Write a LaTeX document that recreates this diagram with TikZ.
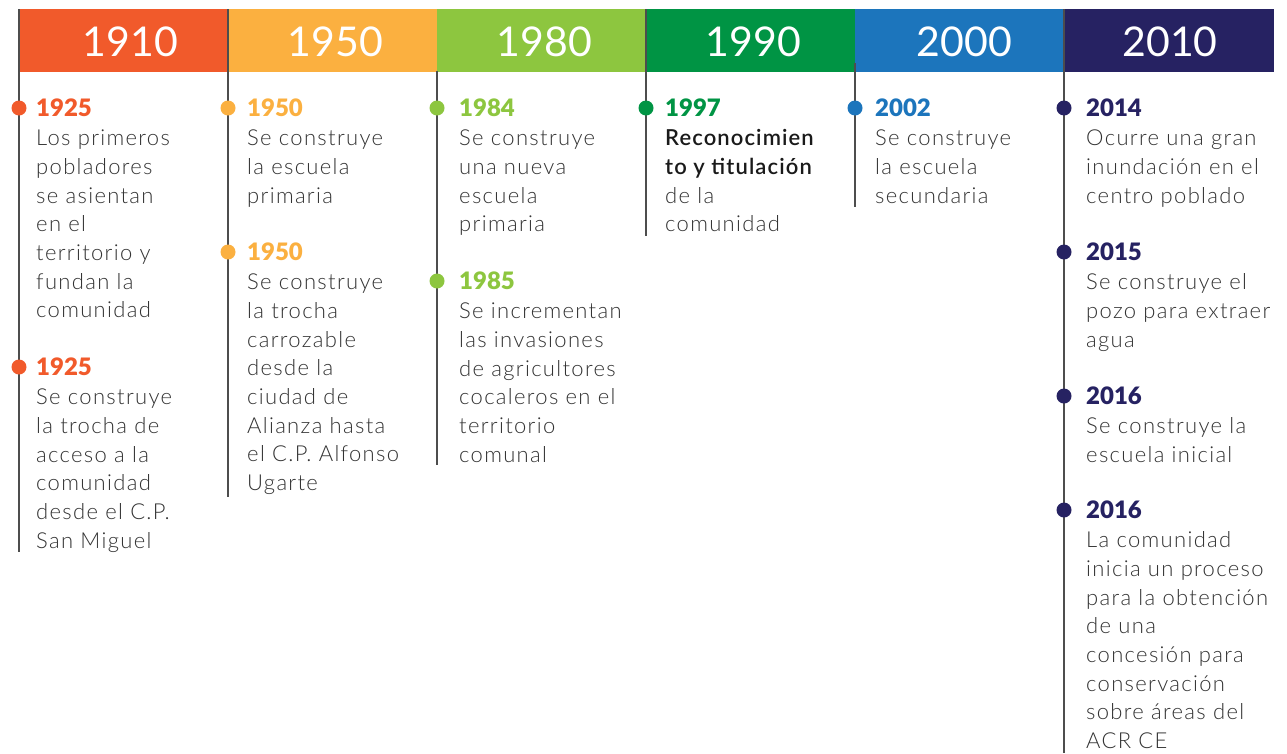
\documentclass[tikz,border=0pt]{standalone}
\usepackage{fontspec}
\setmainfont{Lato Light}
\newfontfamily\tlbody{Lato Light}[LetterSpace=6]
\newfontfamily\tlyear{Lato Black}
\newfontfamily\tlhead{Lato}
\newfontfamily\tlsemifont{Lato Semibold}[LetterSpace=5]
\definecolor{cA}{HTML}{F15A2B}
\definecolor{cB}{HTML}{FBB040}
\definecolor{cC}{HTML}{8DC63F}
\definecolor{cD}{HTML}{009444}
\definecolor{cE}{HTML}{1C75BC}
\definecolor{cF}{HTML}{262262}
\definecolor{tltext}{HTML}{333333}
\definecolor{tldark}{HTML}{1A1A1A}
\definecolor{tlline}{HTML}{4D4D4D}
\newcommand\tlsemi[1]{{\tlsemifont\color{tldark}#1}}
\tikzset{
  band/.style={fill=#1, draw=none},
  headlbl/.style={text=white, font=\tlhead\fontsize{41}{41}\selectfont, anchor=center, inner sep=0pt},
  yearlbl/.style={font=\tlyear\fontsize{24}{24}\selectfont, anchor=base west, inner sep=0pt},
  bodylbl/.style={text=tltext, font=\tlbody\fontsize{22}{24}\selectfont, anchor=base west, inner sep=0pt},
  tlrule/.style={draw=tlline, line width=1.1pt},
  tldot/.style={circle, fill=#1, minimum size=15pt, inner sep=0pt},
}
\newcounter{tlc}
% #1 rule x, #2 text offset, #3 year baseline, #4 colour, #5 year, #6 lines
\newcommand\tlentry[6]{%
  \stepcounter{tlc}%
  \node[tldot=#4] (d\thetlc) at (#1,#3-8) {};
  \node[yearlbl, text=#4] (y\thetlc) at (#1+#2,#3) {#5};
  \foreach \ln [count=\i] in {#6} {
    \node[bodylbl] (b\thetlc-\i) at (#1+#2,{#3+1+\i*28.7}) {\ln};
  }%
}
\begin{document}
\begin{tikzpicture}[x=1pt,y=-1pt]
\useasboundingbox[fill=white] (0,0) rectangle (1287,753);
% header bands
\foreach \xa/\xb/\c/\t/\dx in {19/228/cA/1910/7,228/437/cB/1950/3,437/646/cC/1980/3,646/855/cD/1990/3,855/1064/cE/2000/5,1064/1274/cF/2010/1}{
  \fill[band=\c] (\xa,9) rectangle (\xb,71.5);
  \node[headlbl] (h\t) at ({(\xa+\xb)/2+\dx},42) {\t};
}
% vertical rules
\coordinate (r1a) at (19,9);    \coordinate (r1b) at (19,552);
\coordinate (r2a) at (228,9);   \coordinate (r2b) at (228,497);
\coordinate (r3a) at (437,71);  \coordinate (r3b) at (437,465);
\coordinate (r4a) at (646,9);   \coordinate (r4b) at (646,236);
\coordinate (r5a) at (855,63);  \coordinate (r5b) at (855,207);
\coordinate (r6a) at (1064,9);  \coordinate (r6b) at (1064,753);
\foreach \r in {1,...,6} \draw[tlrule] (r\r a) -- (r\r b);
% entries
\tlentry{19}{17}{116}{cA}{1925}{Los primeros,pobladores,se asientan,en el,territorio y,fundan la,comunidad}
\tlentry{19}{17}{375}{cA}{1925}{Se construye,la trocha de,acceso a la,comunidad,desde el C.P.,San Miguel}
\tlentry{228}{19}{116}{cB}{1950}{Se construye,la escuela,primaria}
\tlentry{228}{19}{260}{cB}{1950}{Se construye,la trocha,carrozable,desde la,ciudad de,Alianza hasta,el C.P. Alfonso,Ugarte}
\tlentry{437}{22}{116}{cC}{1984}{Se construye,una nueva,escuela,primaria}
\tlentry{437}{22}{289}{cC}{1985}{Se incrementan,las invasiones,de agricultores,cocaleros en el,territorio,comunal}
\tlentry{646}{19}{116}{cD}{1997}{\tlsemi{Reconocimien},\tlsemi{to y titulación},de la,comunidad}
\tlentry{855}{20}{116}{cE}{2002}{Se construye,la escuela,secundaria}
\tlentry{1064}{22}{116}{cF}{2014}{Ocurre una gran,inundación en el,centro poblado}
\tlentry{1064}{22}{260}{cF}{2015}{Se construye el,pozo para extraer,agua}
\tlentry{1064}{22}{404}{cF}{2016}{Se construye la,escuela inicial}
\tlentry{1064}{22}{518}{cF}{2016}{La comunidad,inicia un proceso,para la obtención,de una,concesión para,conservación,sobre áreas del,ACR CE}
\end{tikzpicture}
\end{document}
